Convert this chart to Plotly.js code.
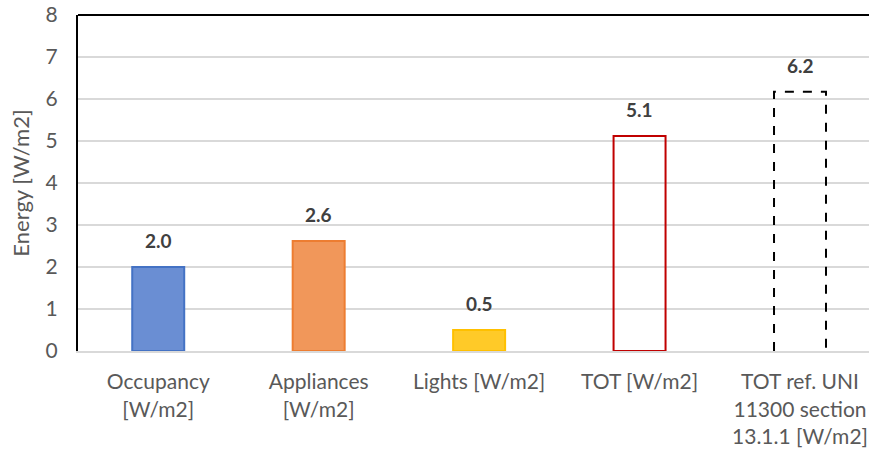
<!DOCTYPE html>
<html><head><meta charset="utf-8">
<script src="https://cdn.plot.ly/plotly-3.0.1.min.js"></script>
<style>html,body{margin:0;padding:0;background:#fff}#chart{width:869px;height:450px}</style>
</head><body><div id="chart"></div>
<script>
const categories = ["Occupancy<br>[W/m2]", "Appliances<br>[W/m2]", "Lights [W/m2]", "TOT [W/m2]", "TOT ref. UNI<br>11300 section<br>13.1.1 [W/m2]"];
const values = [2.0, 2.62, 0.5, 5.12, 6.17];
const labels = ["2.0", "2.6", "0.5", "5.1", "6.2"];
const yTicks = [0, 1, 2, 3, 4, 5, 6, 7, 8];

const fills = ['#6A8ED3', '#F1975A', '#FFCA28', 'rgba(255,255,255,0)', 'rgba(255,255,255,0)'];
const lines = ['#4472C4', '#ED7D31', '#FFC000', '#C00000', 'rgba(0,0,0,0)'];
const barW = 0.324;
const xs = categories.map((c, i) => i);

const traces = [{
  type: 'bar', x: xs, y: values, width: barW,
  marker: {color: fills, line: {color: lines, width: 2}},
  hoverinfo: 'skip', cliponaxis: false
}];

const shapes = [];
// dashed outline (open at the bottom) for the reference bar, built from data
const ri = values.length - 1;
const xa = ri - barW / 2, xb = ri + barW / 2, yv = values[ri];
shapes.push({type: 'path', xref: 'x', yref: 'y',
  path: 'M ' + xa + ',0 L ' + xa + ',' + yv + ' L ' + xb + ',' + yv + ' L ' + xb + ',0',
  line: {color: '#000', width: 2, dash: 'dash'}, layer: 'above'});
// top border
shapes.push({type: 'line', xref: 'paper', yref: 'paper', x0: 0, x1: 1, y0: 1, y1: 1, line: {color: '#000', width: 2}});

const annotations = values.map((v, i) => ({
  x: i, y: v, xref: 'x', yref: 'y', text: '<b>' + labels[i] + '</b>', showarrow: false,
  yanchor: 'bottom', yshift: 13, font: {family: 'Lato, sans-serif', size: 19, color: '#404040'}
}));

const layout = {
  width: 869, height: 450,
  margin: {l: 78, r: 0, t: 15, b: 99},
  paper_bgcolor: '#fff', plot_bgcolor: '#fff',
  showlegend: false,
  font: {family: 'Lato, sans-serif', color: '#595959'},
  xaxis: {
    type: 'linear', range: [-0.5, 4.43], tickvals: xs, ticktext: categories,
    showgrid: false, zeroline: false, showline: true, linecolor: '#D9D9D9', linewidth: 2,
    ticks: '', ticklabelstandoff: 11, tickfont: {size: 21, color: '#595959'}, fixedrange: true
  },
  yaxis: {
    range: [0, 8], tickvals: yTicks, showgrid: true, gridcolor: '#D9D9D9', gridwidth: 1.5,
    zeroline: false, showline: true, linecolor: '#000', linewidth: 2, ticks: '',
    ticklabelstandoff: 14, tickfont: {size: 21, color: '#595959'},
    title: {text: 'Energy [W/m2]', font: {size: 22, color: '#595959'}, standoff: 10}
  },
  shapes: shapes, annotations: annotations, bargap: 0
};

Plotly.newPlot('chart', traces, layout, {staticPlot: true, displayModeBar: false});
</script></body></html>
